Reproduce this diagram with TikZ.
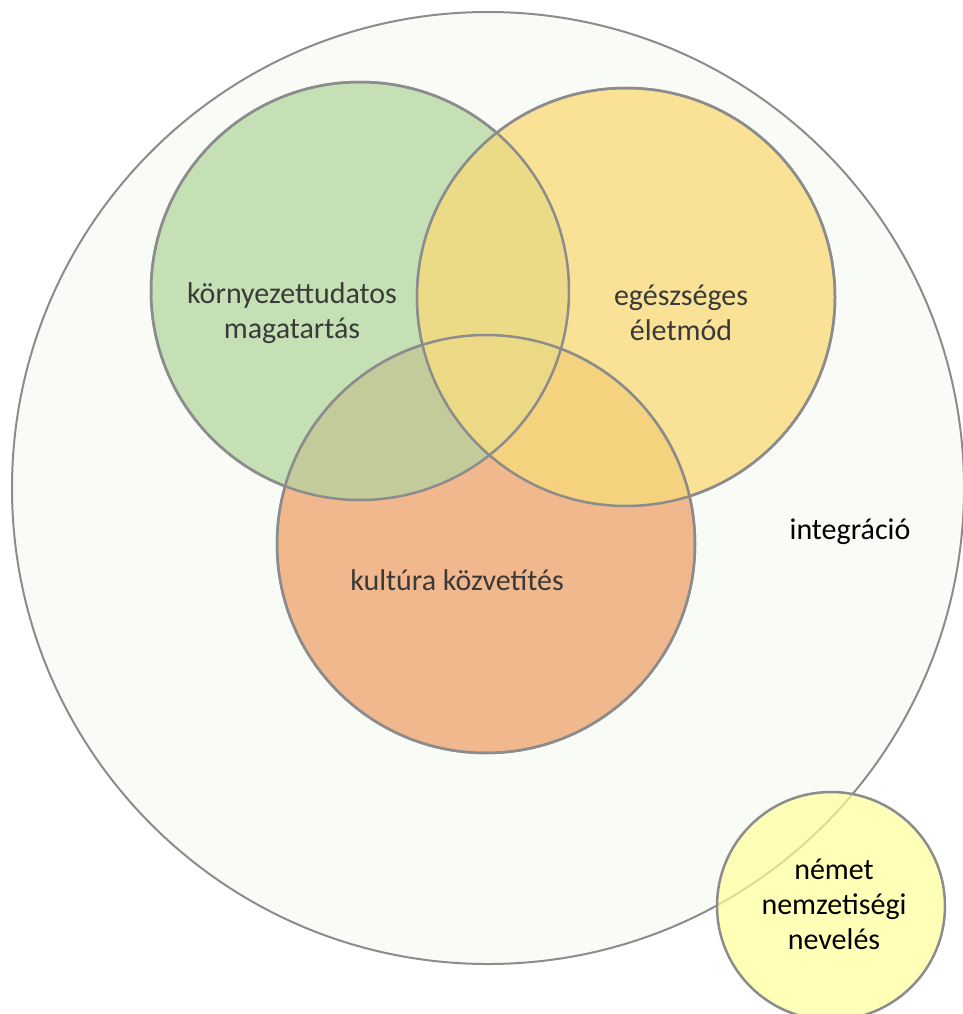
\documentclass[tikz,border=0pt]{standalone}
\usepackage{fontspec}
\setmainfont{Carlito}
\definecolor{ringgray}{HTML}{8C8C8C}
\definecolor{textgray}{HTML}{3A3A3A}
\definecolor{bgwhite}{HTML}{F9FBF7}
\definecolor{kgreen}{HTML}{C5E0B4}
\definecolor{eyellow}{HTML}{F9E196}
\definecolor{korange}{HTML}{F0B88C}
\definecolor{gymix}{HTML}{EBDB87}
\definecolor{gomix}{HTML}{C3CB9A}
\definecolor{yomix}{HTML}{F4D27E}
\definecolor{allmix}{HTML}{ECD985}
\definecolor{nyellow}{HTML}{FFFF99}
\begin{document}
\begin{tikzpicture}[x=1pt,y=-1pt,
	ring/.style={draw=ringgray, line width=2.5pt, circle, minimum size=418pt, inner sep=0pt},
	lbl/.style={align=center, text=textgray, font=\fontsize{30}{35}\selectfont}]
	\useasboundingbox (0,0) rectangle (963,1014);
	% outer circle
	\node (integr) [circle, draw=ringgray, line width=2pt, fill=bgwhite, minimum size=952pt, inner sep=0pt] at (488,488) {};
	% three inner circles
	\node (korny) [ring, fill=kgreen] at (360,291) {};
	\node (egesz) [ring, fill=eyellow] at (626,297) {};
	\node (kult) [ring, fill=korange] at (486,544) {};
	% overlaps
	\begin{scope}
		\clip (korny.center) circle (209pt);
		\fill[gymix] (egesz.center) circle (209pt);
		\fill[gomix] (kult.center) circle (209pt);
	\end{scope}
	\begin{scope}
		\clip (egesz.center) circle (209pt);
		\fill[yomix] (kult.center) circle (209pt);
		\clip (kult.center) circle (209pt);
		\fill[allmix] (korny.center) circle (209pt);
	\end{scope}
	\node [ring] at (korny.center) {};
	\node [ring] at (egesz.center) {};
	\node [ring] at (kult.center) {};
	% small circle
	\node (nemet) [circle, draw=ringgray, line width=2.5pt, fill=nyellow, fill opacity=0.7, minimum size=228pt, inner sep=0pt] at (831,906) {};
	% labels
	\node (tkorny) [lbl] at (292,313) {környezettudatos\\magatartás};
	\node (tegesz) [lbl] at (681,313) {egészséges\\életmód};
	\node (tkult) [lbl] at (457,580) {kultúra közvetítés};
	\node (tintegr) [lbl, text=black] at (850,532) {integráció};
	\node (tnemet) [lbl, text=black] at (834,904) {német\\nemzetiségi\\nevelés};
\end{tikzpicture}
\end{document}
